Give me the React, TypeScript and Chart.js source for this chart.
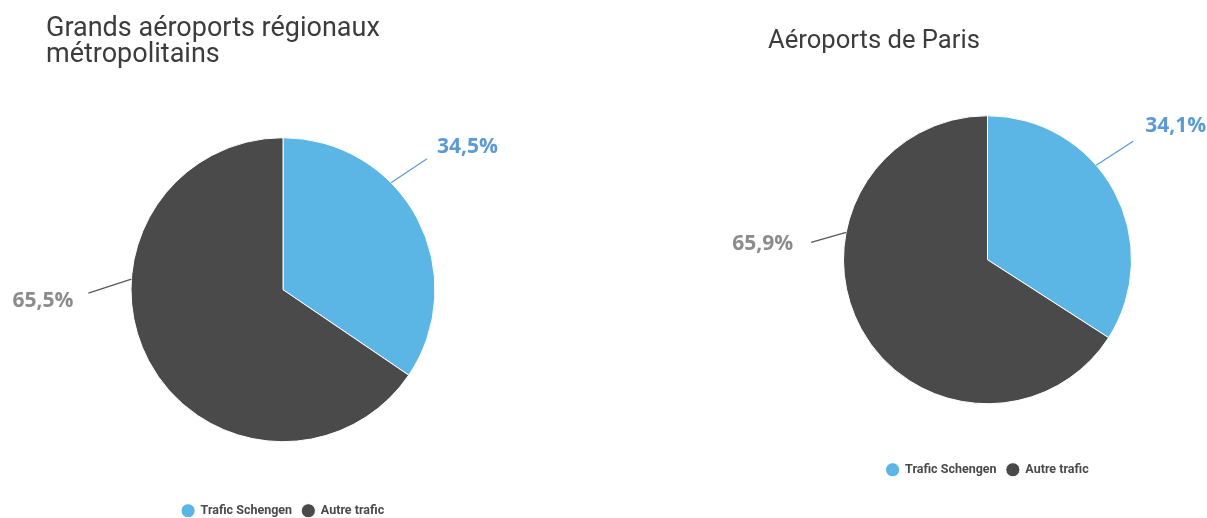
import React, { useEffect, useRef } from "react";
import { Chart, registerables } from "chart.js";

Chart.register(...registerables);

const categories = ["Trafic Schengen", "Autre trafic"];
const regionalValues = [34.5, 65.5];
const parisValues = [34.1, 65.9];
const regionalTitle = ["Grands aéroports régionaux", "métropolitains"];
const parisTitle = ["Aéroports de Paris"];
const sliceColors = ["#5BB5E5", "#4A4A4A"];
const labelColors = ["#5B9BD5", "#8C8C8C"];
const lineColors = ["#5B9BD5", "#595959"];

const fmt = (v: number) => v.toFixed(1).replace(".", ",") + "%";

const calloutPlugin = {
  id: "callouts",
  afterDatasetsDraw(chart: any, _args: any, opts: any) {
    const meta = chart.getDatasetMeta(0);
    const ctx = chart.ctx;
    const values = chart.data.datasets[0].data as number[];
    (opts.items || []).forEach((it: any, i: number) => {
      const arc = meta.data[i];
      if (!arc) return;
      const { x, y, outerRadius } = arc.getProps(["x", "y", "outerRadius"], true);
      const a = (it.angle * Math.PI) / 180;
      const sx = x + outerRadius * Math.cos(a);
      const sy = y + outerRadius * Math.sin(a);
      const ex = sx + it.dx;
      const ey = sy + it.dy;
      ctx.save();
      ctx.strokeStyle = lineColors[i];
      ctx.lineWidth = 1.3;
      ctx.beginPath();
      ctx.moveTo(sx, sy);
      ctx.lineTo(ex, ey);
      ctx.stroke();
      ctx.fillStyle = labelColors[i];
      ctx.font = "bold 21px 'Open Sans'";
      ctx.textBaseline = "middle";
      ctx.textAlign = it.align;
      ctx.fillText(fmt(values[i]), ex + it.tdx, ey + it.tdy);
      ctx.restore();
    });
  },
};

type PieProps = {
  left: number;
  width: number;
  height: number;
  values: number[];
  title: string[];
  titleSize: number;
  titleLineHeight: number;
  radius: number;
  padding: { left: number; right: number; top: number; bottom: number };
  titlePad: { top: number; bottom: number };
  items: any[];
};

function PieChart(p: PieProps) {
  const ref = useRef<HTMLCanvasElement | null>(null);
  useEffect(() => {
    if (!ref.current) return;
    const chart = new Chart(ref.current, {
      type: "pie",
      data: {
        labels: categories,
        datasets: [
          {
            data: p.values,
            backgroundColor: sliceColors,
            borderColor: "#ffffff",
            borderWidth: 1,
            radius: p.radius,
          } as any,
        ],
      },
      options: {
        responsive: false,
        animation: false,
        layout: { padding: p.padding },
        plugins: {
          title: {
            display: true,
            text: p.title,
            align: "start",
            color: "#3C3C3C",
            font: { family: "Roboto", size: p.titleSize, weight: "normal", lineHeight: p.titleLineHeight },
            padding: p.titlePad,
          },
          legend: {
            position: "bottom",
            labels: {
              usePointStyle: true,
              pointStyle: "circle",
              boxWidth: 12.5,
              boxHeight: 10,
              padding: 10,
              color: "#4A4A4A",
              font: { family: "Roboto", size: 12.5, weight: "bold" },
            },
          },
          tooltip: { enabled: false },
          callouts: { items: p.items },
        } as any,
      },
      plugins: [calloutPlugin],
    });
    return () => chart.destroy();
  }, []);
  return (
    <canvas
      ref={ref}
      width={p.width}
      height={p.height}
      style={{ position: "absolute", left: p.left, top: 0, width: p.width, height: p.height }}
    />
  );
}

export default function App() {
  return (
    <div
      style={{
        position: "absolute",
        left: 0,
        top: 0,
        width: 1207,
        height: 518,
        overflow: "hidden",
        background: "#ffffff",
      }}
    >
      <PieChart
        left={0}
        width={566}
        height={530}
        values={regionalValues}
        title={regionalTitle}
        titleSize={27}
        titleLineHeight={0.98}
        radius={152}
        padding={{ left: 46, right: 46, top: 0, bottom: 3 }}
        titlePad={{ top: 16, bottom: 16 }}
        items={[
          { angle: -44.7, dx: 36, dy: -24, tdx: 10, tdy: -12, align: "left" },
          { angle: 184, dx: -43, dy: 14, tdx: -15, tdy: 8, align: "right" },
        ]}
      />
      <PieChart
        left={566}
        width={641}
        height={530}
        values={parisValues}
        title={parisTitle}
        titleSize={25.6}
        titleLineHeight={1.05}
        radius={144}
        padding={{ left: 202, right: 0, top: 0, bottom: 44 }}
        titlePad={{ top: 28.4, bottom: 10.7 }}
        items={[
          { angle: -41, dx: 37, dy: -24, tdx: 12, tdy: -15, align: "left" },
          { angle: 191, dx: -35, dy: 10, tdx: -18, tdy: 2, align: "right" },
        ]}
      />
    </div>
  );
}
